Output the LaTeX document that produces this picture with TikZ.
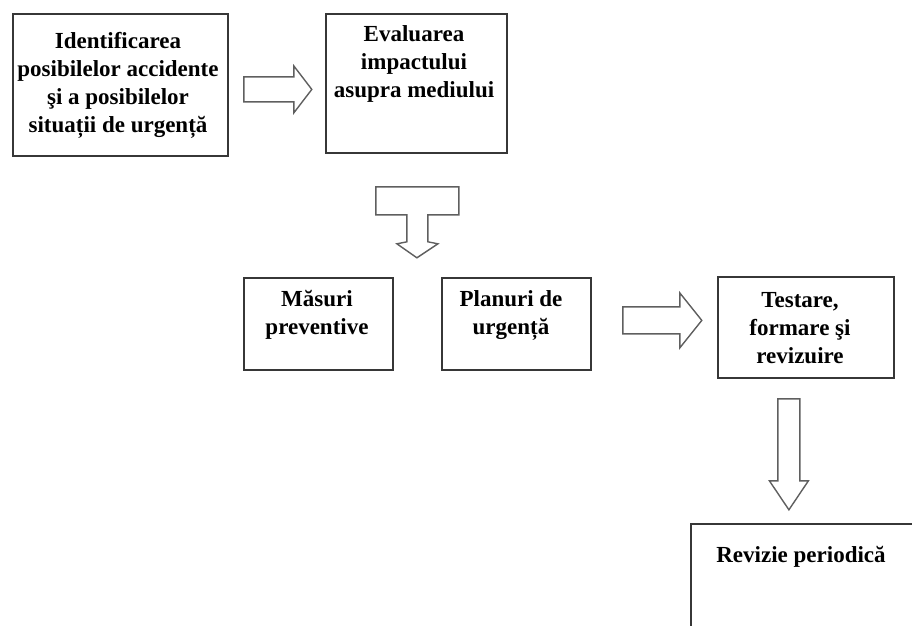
\documentclass[tikz,border=0pt]{standalone}
\usepackage{fontspec}
\setmainfont{Liberation Serif}
\usetikzlibrary{positioning, calc}
\definecolor{framegray}{RGB}{55, 55, 55}
\definecolor{arrowgray}{RGB}{95, 95, 95}

\begin{document}
\begin{tikzpicture}[x=1pt, y=-1pt,
  frame/.style={draw=framegray, line width=1.8pt, anchor=north west, inner sep=0pt},
  boxtext/.style={anchor=north, align=center, inner sep=0pt, font=\bfseries\fontsize{23}{28}\selectfont},
  blockarrow/.style={draw=arrowgray, line width=1.4pt, line join=miter}]
  \useasboundingbox (0,0) rectangle (912,625);
  \clip (0,0) rectangle (912,625);

  % casete
  \node[frame, minimum width=215pt, minimum height=142pt] (ident) at (12,13) {};
  \node[frame, minimum width=181pt, minimum height=139pt] (eval) at (325,13) {};
  \node[frame, minimum width=149pt, minimum height=92pt] (masuri) at (243,277) {};
  \node[frame, minimum width=149pt, minimum height=92pt] (planuri) at (441,277) {};
  \node[frame, minimum width=176pt, minimum height=101pt] (testare) at (717,276) {};
  \node[frame, minimum width=260pt, minimum height=150pt] (revizie) at (690,523) {};

  % texte
  \node[boxtext] (identtext) at (118,32) {Identificarea\\posibilelor accidente\\şi a posibilelor\\situații de urgență};
  \node[boxtext] (evaltext) at (414,25) {Evaluarea\\impactului\\asupra mediului};
  \node[boxtext] (masuritext) at (317,290) {Măsuri\\preventive};
  \node[boxtext] (planuritext) at (511,290) {Planuri de\\urgență};
  \node[boxtext] (testaretext) at (800,292) {Testare,\\formare şi\\revizuire};
  \node[boxtext] (revizietext) at (801,546) {Revizie periodică};

  % sageti
  \coordinate (a1) at ($(ident.east)+(15,4.5)$);
  \draw[blockarrow] (a1) ++(0,-12.5) -- ++(50,0) -- ++(0,-11) -- ++(18,23.5)
    -- ++(-18,23.5) -- ++(0,-11) -- ++(-50,0) -- cycle;

  \coordinate (t) at ($(eval.south)+(1,33)$);
  \draw[blockarrow] (t) ++(-41.5,0) -- ++(83,0) -- ++(0,28) -- ++(-31,0) -- ++(0,27)
    -- ++(10,2) -- ++(-21,14) -- ++(-20,-14) -- ++(10,-2) -- ++(0,-27) -- ++(-31,0) -- cycle;

  \coordinate (a2) at ($(planuri.east)+(31,-3.5)$);
  \draw[blockarrow] (a2) ++(0,-13.5) -- ++(57,0) -- ++(0,-14) -- ++(22,27.5)
    -- ++(-22,27.5) -- ++(0,-14) -- ++(-57,0) -- cycle;

  \coordinate (a3) at ($(testare.south)+(-17,20)$);
  \draw[blockarrow] (a3) ++(-11,0) -- ++(0,82) -- ++(-8.5,0) -- ++(19.5,29)
    -- ++(19.5,-29) -- ++(-8.5,0) -- ++(0,-82) -- cycle;
\end{tikzpicture}
\end{document}
